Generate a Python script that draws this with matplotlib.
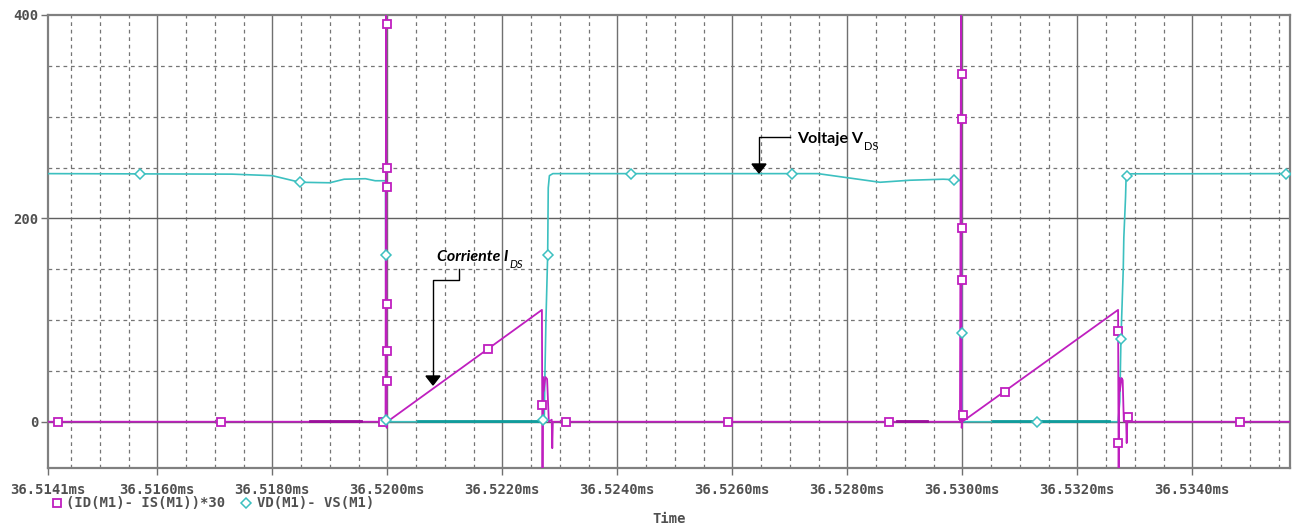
import matplotlib
matplotlib.use("Agg")
import matplotlib.pyplot as plt
from matplotlib.lines import Line2D
from matplotlib.patches import Polygon

# ---------------- data (time in ms) ----------------
# Current (ID - IS)*30, magenta
cur_t = [36.51410, 36.51997, 36.51998, 36.51999, 36.52000, 36.52269, 36.52270,
         36.52271, 36.52272, 36.52275, 36.52278, 36.52281, 36.52286, 36.52287,
         36.52288, 36.52289, 36.52996, 36.52998, 36.52999, 36.53000, 36.53271,
         36.53272, 36.53273, 36.53274, 36.53277, 36.53279, 36.53281, 36.53285,
         36.53286, 36.53287, 36.53288, 36.53570]
cur_v = [0, 0, 420, -6, 0, 110, -60,
         44, 30, 44, 42, 0, 2, -26,
         0, 0, 0, 420, -6, 0, 110,
         -60, 43, 30, 43, 41, 0, 2,
         -21, 0, 0, 0]
cur_mark_t = [36.51427, 36.51711, 36.51993, 36.51999, 36.51999, 36.51999, 36.51999,
              36.51999, 36.51999, 36.52175, 36.52269, 36.52311, 36.52593, 36.52873,
              36.53000, 36.53000, 36.53000, 36.53000, 36.53002, 36.53074, 36.53271,
              36.53271, 36.53288, 36.53483]
cur_mark_v = [0, 0, 0, 391, 250, 231, 116,
              70, 40, 72, 16, 0, 0, 0,
              342, 298, 191, 139, 7, 29, 89,
              -21, 5, 0]
cur_low_t = [[36.51866, 36.51955], [36.52886, 36.52938]]   # small conduction tails
cur_low_v = [[0.6, 0.6], [0.6, 0.6]]

# Voltage VD - VS, cyan
vds_t = [36.51410, 36.51730, 36.51800, 36.51848, 36.51900, 36.51925, 36.51962,
         36.51979, 36.51997, 36.51998, 36.52273, 36.52274, 36.52276, 36.52279,
         36.52280, 36.52282, 36.52288, 36.52749, 36.52800, 36.52857, 36.52909,
         36.52967, 36.52986, 36.52998, 36.53000, 36.53271, 36.53274, 36.53276,
         36.53280, 36.53281, 36.53284, 36.53285, 36.53293, 36.53570]
vds_v = [244, 243.5, 242, 235.5, 235, 238.5, 239,
         237, 237, 0, 0, 40, 100, 164,
         230, 242, 244, 244, 240, 235.5, 237.5,
         238.5, 238, 237, 0, 0, 20, 81,
         150, 181, 221, 241.5, 243.8, 244]
vds_mark_t = [36.51570, 36.51848, 36.51998, 36.51998, 36.52271, 36.52279, 36.52424,
              36.52704, 36.52986, 36.53000, 36.53130, 36.53276, 36.53286, 36.53563]
vds_mark_v = [243.6, 235.8, 164, 2, 2, 164, 243.6,
              243.6, 237.7, 87, 0, 81, 241.5, 243.6]
vds_on_t = [[36.52054, 36.52263], [36.53054, 36.53256]]
vds_on_v = [[0.3, 0.3], [0.3, 0.3]]

xtick_vals = [36.5141, 36.5160, 36.5180, 36.5200, 36.5220, 36.5240, 36.5260,
              36.5280, 36.5300, 36.5320, 36.5340]
xtick_labels = ["36.5141ms", "36.5160ms", "36.5180ms", "36.5200ms", "36.5220ms",
                "36.5240ms", "36.5260ms", "36.5280ms", "36.5300ms", "36.5320ms",
                "36.5340ms"]
ytick_vals = [0, 200, 400]
ytick_labels = ["0", "200", "400"]
legend_labels = ["(ID(M1)- IS(M1))*30", "VD(M1)- VS(M1)"]

# ---------------- figure ----------------
W, H = 1294, 527
fig = plt.figure(figsize=(W / 100, H / 100), dpi=100)
fig.patch.set_facecolor("white")
L, R, T, B = 48, 1290, 15, 468
ax = fig.add_axes([L / W, 1 - B / H, (R - L) / W, (B - T) / H])
ax.set_xlim(36.5141, 36.5357)
ax.set_ylim(-45.5, 400)

MAG = "#bf1fbf"
CYN = "#3cc0c0"
GRID = "#757575"
TXT = "#505050"

# grid
minor_x = [36.5145 + 0.0005 * i for i in range(43)]
for x in minor_x:
    if any(abs(x - m) < 1e-7 for m in xtick_vals):
        continue
    if x < 36.5357:
        ax.axvline(x, color=GRID, lw=0.9, ls=(0, (3, 3)), zorder=1)
for x in xtick_vals[1:]:
    ax.axvline(x, color="#707070", lw=1.0, zorder=1)
for y in [-50, 50, 100, 150, 250, 300, 350]:
    ax.axhline(y, color=GRID, lw=0.9, ls=(0, (3, 3)), zorder=1)
for y in [0, 200]:
    ax.axhline(y, color="#606060", lw=1.0, zorder=1)

# series
ax.plot(vds_t, vds_v, color=CYN, lw=1.2, zorder=3)
for tt, vv in zip(vds_on_t, vds_on_v):
    ax.plot(tt, vv, color="#109c9c", lw=2.0, zorder=3)
ax.plot(cur_t, cur_v, color=MAG, lw=1.3, zorder=4)
for tt, vv in zip(cur_low_t, cur_low_v):
    ax.plot(tt, vv, color="#9a109a", lw=2.0, zorder=4)
ax.plot(cur_mark_t, cur_mark_v, ls="none", marker="s", ms=6, mfc="white",
        mec=MAG, mew=1.3, zorder=5)
ax.plot(vds_mark_t, vds_mark_v, ls="none", marker="D", ms=5, mfc="white",
        mec=CYN, mew=1.1, zorder=5)

# axes styling
for s in ax.spines.values():
    s.set_color("#808080")
    s.set_linewidth(1.6)
ax.set_xticks(xtick_vals)
ax.set_xticklabels(xtick_labels)
ax.set_yticks(ytick_vals)
ax.set_yticklabels(ytick_labels)
ax.tick_params(axis="both", direction="out", length=5, width=1.0, color="#707070",
               labelcolor=TXT, pad=6)
ax.tick_params(axis="y", pad=2)
for lab in ax.get_xticklabels() + ax.get_yticklabels():
    lab.set_fontfamily("DejaVu Sans Mono")
    lab.set_fontweight("bold")
    lab.set_fontsize(10)


def P(px, py):
    return (px / W, 1 - py / H)


# legend (bottom)
fig.add_artist(Line2D([P(57, 0)[0]], [P(0, 503)[1]], marker="s", ms=6, mfc="white",
                      mec=MAG, mew=1.3, ls="none"))
fig.text(*P(66, 503), legend_labels[0], family="DejaVu Sans Mono", weight="bold",
         size=10, color=TXT, va="center", ha="left")
fig.add_artist(Line2D([P(246, 0)[0]], [P(0, 503)[1]], marker="D", ms=5, mfc="white",
                      mec=CYN, mew=1.1, ls="none"))
fig.text(*P(257, 503), legend_labels[1], family="DejaVu Sans Mono", weight="bold",
         size=10, color=TXT, va="center", ha="left")
fig.text(*P(669, 519), "Time", family="DejaVu Sans Mono", weight="bold",
         size=10, color=TXT, va="center", ha="center")

# annotations
t1 = fig.text(*P(437, 257), "Corriente I", style="italic", weight="bold", size=11.5,
              color="black", va="center", ha="left", family="Lato")
ax.annotate("DS", xy=(1, 0), xycoords=t1, xytext=(1, -4), textcoords="offset points",
            style="italic", size=8, color="black", va="bottom", ha="left",
            family="Lato", annotation_clip=False)
fig.add_artist(Line2D([P(459, 0)[0], P(459, 0)[0], P(433, 0)[0], P(433, 0)[0]],
                      [P(0, 269)[1], P(0, 280)[1], P(0, 280)[1], P(0, 377)[1]],
                      color="black", lw=1.0))
fig.add_artist(Polygon([P(426, 376), P(440, 376), P(433, 385)], closed=True,
                       color="black"))

t2 = fig.text(*P(797, 139), "Voltaje V", weight="bold", size=11.5, color="black",
              va="center", ha="left", family="Lato")
ax.annotate("DS", xy=(1, 0), xycoords=t2, xytext=(1, -4), textcoords="offset points",
            size=8, color="black", va="bottom", ha="left", family="Lato",
            annotation_clip=False)
fig.add_artist(Line2D([P(790, 0)[0], P(759, 0)[0], P(759, 0)[0]],
                      [P(0, 137)[1], P(0, 137)[1], P(0, 165)[1]],
                      color="black", lw=1.0))
fig.add_artist(Polygon([P(752, 164), P(766, 164), P(759, 173)], closed=True,
                       color="black"))

fig.savefig("out.png", dpi=100, facecolor="white")
